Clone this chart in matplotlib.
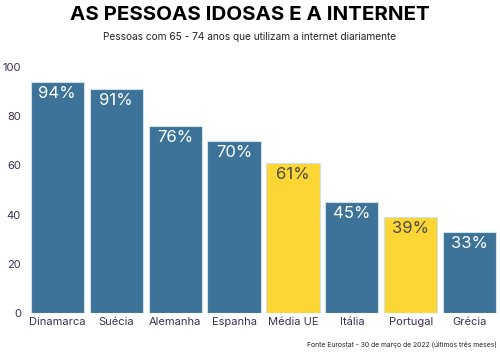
import matplotlib.pyplot as plt

paises = ["Dinamarca", "Suécia", "Alemanha", "Espanha", "Média UE", "Itália", "Portugal", "Grécia"]
valores = [94, 91, 76, 70, 61, 45, 39, 33]
destaque = [False, False, False, False, True, False, True, False]

azul = "#3d7399"
amarelo = "#fcd634"
texto = "#3b3050"

plt.rcParams["font.family"] = ["Inter", "DejaVu Sans"]

fig = plt.figure(figsize=(5, 3.6), dpi=100)
ax = fig.add_axes([0.06, 0.1306, 0.934, 0.6834])

cores = [amarelo if d else azul for d in destaque]
x = range(len(paises))
ax.bar(x, valores, width=0.9, color=cores, edgecolor="#cfe0ea", linewidth=0.8)

for i, v in enumerate(valores):
    cor_txt = "#4a4a4a" if destaque[i] else "white"
    ax.text(i, v - 1.6, f"{v}%", ha="center", va="top", fontsize=12, color=cor_txt)

ax.set_xlim(-0.46, 7.46)
ax.set_ylim(0, 100)
ax.set_yticks([0, 20, 40, 60, 80, 100])
ax.set_xticks(list(x))
ax.set_xticklabels(paises)
ax.tick_params(axis="both", length=0, labelsize=8, colors=texto)
ax.tick_params(axis="x", pad=3)
ax.tick_params(axis="y", pad=6.5)
for s in ax.spines.values():
    s.set_visible(False)

fig.text(0.5, 0.958, "AS PESSOAS IDOSAS E A INTERNET", ha="center", va="center",
         fontsize=14.8, fontweight="bold", color="black")
fig.text(0.5, 0.898, "Pessoas com 65 - 74 anos que utilizam a internet diariamente",
         ha="center", va="center", fontsize=7.25, color="#222222")
fig.text(0.994, 0.042, "Fonte Eurostat - 30 de março de 2022 (últimos três meses)",
         ha="right", va="center", fontsize=4.9, color="#222222")

fig.savefig("out.png", dpi=100)
